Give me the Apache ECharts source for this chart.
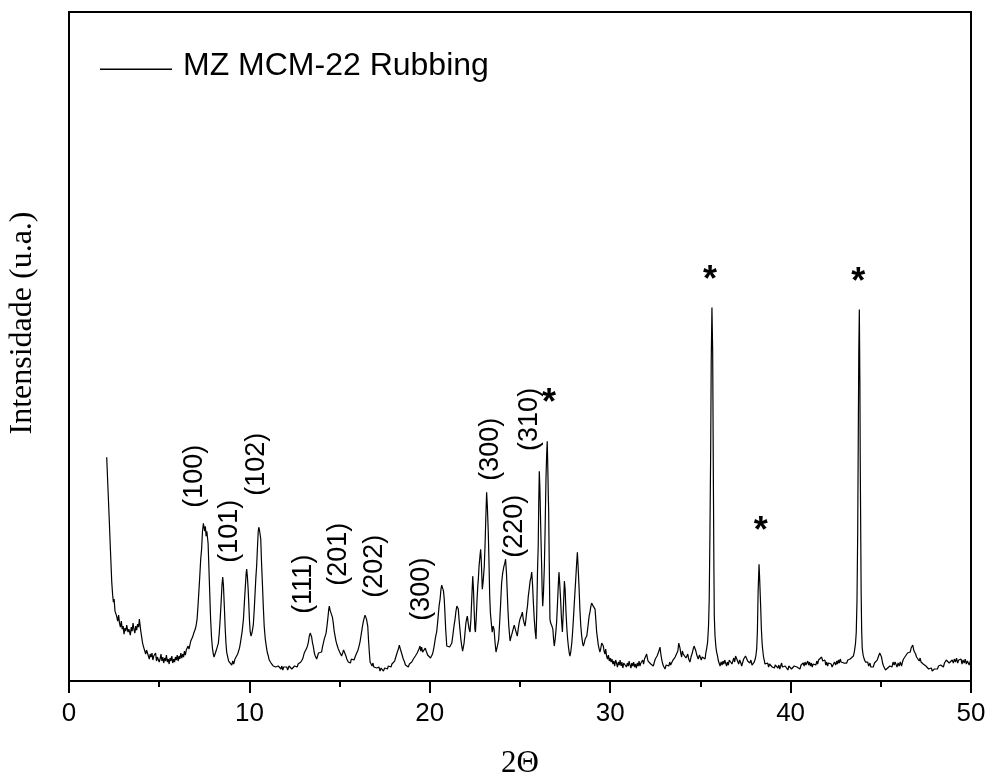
<!DOCTYPE html>
<html>
<head>
<meta charset="utf-8">
<script src="https://cdn.jsdelivr.net/npm/echarts@6/dist/echarts.min.js"></script>
<style>
html,body{margin:0;padding:0;background:#fff;}
#chart{width:989px;height:778px;}
</style>
</head>
<body>
<div id="chart"></div>
<script>
// ---- XRD scan, [2theta, intensity (a.u.)] ----
var scanLowAngle = [[2.09,224],[2.16,193],[2.23,162],[2.3,130],[2.37,99],[2.42,86],[2.46,79],[2.5,82],[2.55,70],[2.6,72],[2.64,65],[2.7,60],[2.75,66],[2.8,58],[2.85,54],[2.9,60],[2.95,52],[3.0,55],[3.05,47],[3.1,53],[3.15,50],[3.2,56],[3.27,49],[3.32,52],[3.4,46],[3.45,54],[3.5,50],[3.55,58],[3.6,52],[3.65,48],[3.7,55],[3.75,51],[3.8,57],[3.86,54],[3.9,62],[3.94,60],[3.98,50],[4.03,44],[4.08,38],[4.12,35],[4.2,33],[4.25,27],[4.3,31],[4.38,29],[4.45,22],[4.5,27],[4.55,24],[4.6,28],[4.65,21],[4.7,25],[4.75,23],[4.8,28],[4.85,20],[4.9,24],[4.95,26],[5.0,19],[5.05,22],[5.1,27],[5.15,20],[5.2,24],[5.25,18],[5.3,23],[5.35,20],[5.4,26],[5.45,19],[5.5,22],[5.55,17],[5.6,23],[5.65,20],[5.7,25],[5.75,18],[5.8,22],[5.85,19],[5.9,24],[5.95,21],[6.0,26],[6.05,20],[6.1,25],[6.15,22],[6.2,28],[6.25,23],[6.3,27],[6.35,24],[6.4,30],[6.45,26],[6.5,31],[6.55,29],[6.6,35],[6.65,32],[6.7,36],[6.75,40],[6.8,38],[6.85,44],[6.9,47],[6.95,45],[7.0,52],[7.05,56],[7.1,62],[7.15,75],[7.2,90],[7.25,105],[7.3,122],[7.35,132],[7.4,150],[7.45,158],[7.48,160],[7.52,150],[7.56,155],[7.6,145],[7.64,150],[7.67,149],[7.71,138],[7.74,122],[7.78,100],[7.82,78],[7.85,62],[7.9,44],[7.95,33],[8.0,27],[8.04,24],[8.1,26],[8.15,30],[8.2,32],[8.28,38],[8.33,48],[8.38,62],[8.43,78],[8.48,96],[8.52,104],[8.56,96],[8.61,75],[8.66,52],[8.7,38],[8.74,29],[8.8,24],[8.85,20],[8.9,22],[8.95,18],[9.02,16],[9.08,20],[9.13,17],[9.2,22],[9.25,24],[9.3,21],[9.35,27],[9.39,26],[9.45,33],[9.5,38],[9.55,44],[9.6,50],[9.67,62],[9.72,78],[9.78,96],[9.82,108],[9.85,112],[9.89,104],[9.93,92],[9.96,80],[10.0,62],[10.04,50],[10.09,45],[10.14,48],[10.18,52],[10.22,57],[10.27,72],[10.32,90],[10.36,104],[10.4,115],[10.45,135],[10.49,150],[10.52,154],[10.56,151],[10.6,146],[10.63,142],[10.67,120],[10.72,98],[10.77,75],[10.82,55],[10.88,42],[10.96,32],[11.0,28],[11.05,25],[11.1,21],[11.15,23],[11.2,18],[11.25,20],[11.33,15],[11.4,17],[11.45,14],[11.5,16],[11.55,12],[11.6,15],[11.65,13],[11.7,16],[11.75,12],[11.8,15],[11.85,11],[11.9,14],[11.95,16]];

var scanMidAngle = [[12.0,12],[12.07,14],[12.12,11],[12.2,15],[12.25,13],[12.3,16],[12.35,12],[12.4,14],[12.45,11],[12.5,15],[12.55,13],[12.6,16],[12.65,14],[12.7,17],[12.75,15],[12.8,15],[12.85,19],[12.9,17],[12.95,22],[13.0,24],[13.04,28],[13.08,29],[13.13,27],[13.18,33],[13.23,36],[13.27,39],[13.32,45],[13.37,48],[13.41,49],[13.45,44],[13.5,38],[13.54,35],[13.6,28],[13.65,25],[13.7,24],[13.73,22],[13.78,25],[13.83,28],[13.88,26],[13.93,30],[14.0,29],[14.05,34],[14.1,38],[14.15,42],[14.2,45],[14.25,48],[14.3,55],[14.35,63],[14.4,72],[14.43,75],[14.47,71],[14.52,73],[14.56,72],[14.6,64],[14.65,58],[14.7,50],[14.75,45],[14.8,40],[14.86,36],[14.93,32],[15.0,29],[15.05,27],[15.11,25],[15.17,28],[15.22,31],[15.26,30],[15.3,29],[15.35,25],[15.4,22],[15.48,19],[15.55,21],[15.6,18],[15.65,22],[15.7,20],[15.75,24],[15.8,21],[15.85,22],[15.9,26],[15.95,28],[16.0,30],[16.05,33],[16.13,39],[16.2,47],[16.26,54],[16.31,59],[16.36,63],[16.41,66],[16.45,67],[16.49,62],[16.53,60],[16.56,55],[16.6,42],[16.65,28],[16.69,19],[16.75,17],[16.8,15],[16.85,18],[16.9,14],[16.95,16],[17.0,12],[17.06,13],[17.12,11],[17.18,14],[17.24,10],[17.3,13],[17.36,11],[17.43,10],[17.5,13],[17.55,11],[17.6,14],[17.65,12],[17.7,15],[17.75,13],[17.8,16],[17.85,14],[17.9,17],[17.98,17],[18.05,20],[18.1,23],[18.15,26],[18.2,29],[18.26,32],[18.31,36],[18.35,35],[18.4,30],[18.45,27],[18.53,22],[18.6,19],[18.65,16],[18.7,18],[18.75,15],[18.81,14],[18.87,17],[18.93,15],[19.0,19],[19.05,18],[19.09,22],[19.15,20],[19.2,25],[19.25,23],[19.3,28],[19.35,26],[19.4,32],[19.46,35],[19.5,30],[19.55,34],[19.6,29],[19.64,31],[19.7,27],[19.75,33],[19.8,30],[19.83,32],[19.88,26],[19.93,28],[19.98,24],[20.04,23],[20.1,22],[20.15,27],[20.2,31],[20.25,36],[20.3,42],[20.34,46],[20.38,49],[20.43,58],[20.48,68],[20.52,76],[20.57,82],[20.62,92],[20.66,96],[20.69,97],[20.72,94],[20.76,90],[20.8,82],[20.84,68],[20.88,52],[20.94,35],[21.0,33],[21.05,36],[21.1,34],[21.16,32],[21.22,38],[21.28,46],[21.34,55],[21.4,62],[21.45,70],[21.5,75],[21.54,77],[21.58,72],[21.62,62],[21.67,52],[21.72,42],[21.78,34],[21.82,30],[21.86,29],[21.9,38],[21.95,48],[22.0,58],[22.04,62],[22.08,65],[22.13,58],[22.18,52],[22.23,49],[22.28,62],[22.33,84],[22.38,105],[22.42,92],[22.46,70],[22.5,52],[22.53,49],[22.57,62],[22.62,82],[22.66,95],[22.69,102],[22.73,115],[22.78,125],[22.82,132],[22.86,118],[22.91,92],[22.96,100],[23.02,115],[23.06,135],[23.1,160],[23.15,189],[23.19,175],[23.24,150],[23.28,120],[23.32,85],[23.36,68],[23.41,58],[23.46,49],[23.51,55],[23.56,52],[23.62,38],[23.67,29],[23.72,33],[23.77,37],[23.82,42],[23.87,58],[23.92,75],[23.98,98]];

var scanHighAngle = [[24.04,108],[24.11,115],[24.16,118],[24.2,122],[24.25,108],[24.29,90],[24.33,72],[24.38,55],[24.45,40],[24.5,44],[24.55,47],[24.59,50],[24.64,48],[24.68,56],[24.72,55],[24.77,50],[24.81,48],[24.85,45],[24.9,52],[24.95,58],[25.0,62],[25.05,60],[25.09,66],[25.13,69],[25.18,62],[25.23,58],[25.28,55],[25.33,62],[25.37,69],[25.42,76],[25.46,85],[25.51,92],[25.56,100],[25.61,104],[25.65,109],[25.7,95],[25.74,79],[25.79,62],[25.84,50],[25.89,42],[25.93,70],[25.97,110],[26.01,135],[26.04,180],[26.07,210],[26.1,195],[26.13,170],[26.16,145],[26.2,115],[26.23,90],[26.26,75],[26.3,88],[26.35,115],[26.39,150],[26.44,202],[26.48,228],[26.51,240],[26.54,215],[26.57,185],[26.59,169],[26.62,120],[26.66,62],[26.7,58],[26.74,60],[26.77,55],[26.82,52],[26.86,42],[26.9,35],[26.95,42],[27.0,52],[27.03,59],[27.08,78],[27.12,95],[27.16,109],[27.2,98],[27.25,82],[27.3,62],[27.35,49],[27.4,70],[27.46,100],[27.5,92],[27.55,69],[27.6,52],[27.64,42],[27.68,35],[27.73,28],[27.77,25],[27.82,30],[27.87,38],[27.92,50],[27.96,62],[28.01,78],[28.05,90],[28.09,102],[28.14,118],[28.18,129],[28.22,115],[28.27,95],[28.32,72],[28.37,55],[28.42,45],[28.47,38],[28.51,35],[28.56,38],[28.61,42],[28.66,44],[28.7,45],[28.75,52],[28.8,60],[28.84,66],[28.88,69],[28.92,74],[28.97,78],[29.01,79],[29.06,75],[29.11,74],[29.16,72],[29.2,62],[29.25,49],[29.3,42],[29.34,36],[29.39,32],[29.43,29],[29.48,33],[29.53,38],[29.57,40],[29.62,35],[29.66,30],[29.71,27],[29.75,32],[29.8,25],[29.85,22],[29.9,26],[29.95,20],[30.0,23],[30.05,19],[30.1,22],[30.15,17],[30.2,20],[30.25,15],[30.3,21],[30.35,18],[30.4,14],[30.45,19],[30.5,16],[30.55,21],[30.6,15],[30.65,19],[30.7,13],[30.75,18],[30.8,16],[30.85,20],[30.9,14],[30.95,18],[31.0,15],[31.05,20],[31.1,16],[31.15,13],[31.2,18],[31.25,15],[31.3,19],[31.35,14],[31.4,17],[31.45,13],[31.5,18],[31.55,15],[31.6,20],[31.65,15],[31.7,18],[31.75,16],[31.8,21],[31.85,17],[31.9,22],[31.95,24],[32.02,27],[32.06,23],[32.1,20],[32.15,18],[32.2,22],[32.25,17],[32.3,19],[32.35,16],[32.39,15],[32.45,19],[32.5,22],[32.55,20],[32.6,25],[32.65,27],[32.7,30],[32.76,34],[32.8,28],[32.85,22],[32.9,18],[32.95,15],[33.0,14],[33.04,12],[33.1,16],[33.15,14],[33.2,18],[33.25,15],[33.3,19],[33.35,16],[33.41,17],[33.48,21],[33.55,20],[33.6,24],[33.65,22],[33.7,26],[33.75,30],[33.8,38],[33.83,40],[33.87,33],[33.91,28],[33.96,24],[34.0,30],[34.05,27],[34.1,25],[34.15,28],[34.2,23],[34.24,24],[34.3,27],[34.35,22],[34.42,19],[34.48,24],[34.55,28],[34.6,32],[34.65,35],[34.7,37],[34.75,30],[34.8,26],[34.88,22],[34.95,26],[35.0,24],[35.05,21],[35.1,24],[35.15,22],[35.2,25],[35.26,22],[35.3,28],[35.35,33],[35.4,39],[35.45,55],[35.49,82],[35.53,150],[35.57,232],[35.6,320],[35.64,374],[35.68,330],[35.72,199],[35.75,110],[35.77,65],[35.81,45],[35.86,34],[35.9,29],[35.95,25]];

var scanTail = [[36.0,20],[36.05,18],[36.09,15],[36.15,19],[36.2,16],[36.25,20],[36.3,17],[36.35,21],[36.4,18],[36.45,15],[36.5,19],[36.55,16],[36.6,21],[36.64,19],[36.7,22],[36.75,17],[36.8,20],[36.85,23],[36.9,19],[36.95,25],[37.01,24],[37.06,20],[37.12,17],[37.18,21],[37.24,18],[37.29,15],[37.35,19],[37.4,22],[37.45,20],[37.5,25],[37.57,24],[37.62,20],[37.68,22],[37.74,18],[37.8,21],[37.86,16],[37.93,15],[37.98,19],[38.04,22],[38.08,26],[38.12,32],[38.16,50],[38.2,90],[38.25,117],[38.29,100],[38.34,75],[38.38,52],[38.42,38],[38.45,32],[38.5,24],[38.55,20],[38.58,17],[38.63,19],[38.68,15],[38.73,18],[38.78,14],[38.83,17],[38.88,15],[38.93,18],[38.98,14],[39.04,15],[39.1,13],[39.15,16],[39.2,14],[39.25,17],[39.3,13],[39.35,16],[39.4,12],[39.45,15],[39.5,18],[39.55,14],[39.6,16],[39.65,12],[39.7,15],[39.78,14],[39.85,11],[39.9,15],[39.95,13],[40.0,16],[40.05,12],[40.1,14],[40.15,11],[40.2,15],[40.25,13],[40.3,17],[40.35,14],[40.4,12],[40.45,15],[40.52,12],[40.58,16],[40.63,14],[40.7,18],[40.75,15],[40.8,19],[40.85,16],[40.89,17],[40.95,20],[41.0,16],[41.05,19],[41.1,15],[41.15,18],[41.2,14],[41.25,17],[41.3,15],[41.35,19],[41.4,16],[41.45,20],[41.5,17],[41.55,21],[41.6,23],[41.65,20],[41.72,24],[41.78,20],[41.84,18],[41.9,21],[41.95,16],[42.0,19],[42.05,15],[42.1,18],[42.15,16],[42.2,20],[42.25,17],[42.3,14],[42.37,15],[42.43,19],[42.5,16],[42.55,20],[42.6,17],[42.65,21],[42.7,18],[42.75,22],[42.8,19],[42.85,17],[42.9,21],[42.95,18],[43.0,20],[43.05,17],[43.11,18],[43.17,21],[43.23,19],[43.3,22],[43.35,20],[43.4,23],[43.48,25],[43.54,30],[43.6,38],[43.64,49],[43.68,80],[43.72,150],[43.75,240],[43.78,330],[43.81,372],[43.84,300],[43.86,220],[43.88,169],[43.91,90],[43.94,50],[43.97,33],[44.02,26],[44.08,22],[44.15,19],[44.21,17],[44.27,19],[44.33,15],[44.4,18],[44.45,14],[44.52,16],[44.58,14],[44.65,18],[44.72,17],[44.8,21],[44.88,25],[44.94,28],[44.99,30],[45.04,24],[45.1,18],[45.15,15],[45.2,13],[45.26,11],[45.32,9],[45.38,13],[45.44,11],[45.5,15],[45.56,17],[45.62,14],[45.68,19],[45.74,16],[45.79,19],[45.85,17],[45.9,14],[45.96,18],[46.02,15],[46.08,19],[46.15,15],[46.2,19],[46.26,22],[46.31,20],[46.37,25],[46.43,25],[46.48,28],[46.53,26],[46.58,30],[46.63,29],[46.68,33],[46.72,31],[46.77,36],[46.8,34],[46.84,30],[46.88,32],[46.93,27],[46.98,24],[47.03,26],[47.08,22],[47.13,20],[47.18,23],[47.23,19],[47.3,21],[47.35,17],[47.4,18],[47.45,17],[47.5,15],[47.55,13],[47.6,15],[47.65,12],[47.7,14],[47.75,11],[47.8,13],[47.85,10],[47.91,9],[47.97,12],[48.03,10],[48.08,14],[48.14,12],[48.2,15],[48.26,13],[48.32,16],[48.38,14],[48.43,17],[48.47,14],[48.53,18],[48.58,16],[48.63,21],[48.68,19],[48.74,22],[48.79,18],[48.84,20],[48.9,17],[48.96,21],[49.02,18],[49.08,22],[49.14,19],[49.2,23],[49.26,18],[49.32,21],[49.39,19],[49.45,22],[49.5,17],[49.56,21],[49.62,18],[49.68,22],[49.74,17],[49.8,20],[49.85,19],[49.9,16],[49.94,15],[49.98,21]];

// ---- peak annotations (data coordinates) ----
var hklText      = ['(100)','(101)','(102)','(111)','(201)','(202)','(300)','(300)','(220)','(310)'];
var hklTheta     = [6.98, 8.92, 10.40, 12.99, 14.93, 16.96, 19.55, 23.34, 24.72, 25.55];
var hklIntensity = [205, 150, 217, 97, 127, 115, 92, 232, 155, 262];

var starTheta     = [26.61, 35.53, 38.34, 43.75];
var starIntensity = [277, 401, 149, 399];

var xTicks = [0, 10, 20, 30, 40, 50];
var seriesName = 'MZ MCM-22 Rubbing';

var scan = scanLowAngle.concat(scanMidAngle, scanHighAngle, scanTail);
var hklData = hklText.map(function (t, i) { return [hklTheta[i], hklIntensity[i], t]; });
var starData = starTheta.map(function (t, i) { return [t, starIntensity[i], '*']; });

var SANS = '"Liberation Sans", Arial, Helvetica, sans-serif';
var SERIF = '"Liberation Serif", "Times New Roman", Times, serif';

var chart = echarts.init(document.getElementById('chart'), null, {renderer: 'canvas'});
chart.setOption({
  animation: false,
  backgroundColor: '#ffffff',
  grid: {left: 69, right: 18, top: 12, bottom: 97, show: true, borderColor: '#000', borderWidth: 2, backgroundColor: 'transparent'},
  legend: {
    data: [seriesName],
    left: 100, top: 50, padding: 0,
    itemWidth: 78, itemHeight: 30,
    icon: 'path://M0,0 M0,17.6 L72,17.6 L72,18.9 L0,18.9 Z M78,30',
    itemStyle: {borderWidth: 0},
    textStyle: {fontFamily: SANS, fontSize: 32, color: '#000'},
    selectedMode: false
  },
  xAxis: {
    type: 'value', min: xTicks[0], max: xTicks[xTicks.length - 1], interval: 10,
    axisLine: {show: true, onZero: false, lineStyle: {color: '#000', width: 2}},
    axisTick: {show: true, inside: false, length: 12, lineStyle: {color: '#000', width: 2}},
    minorTick: {show: true, splitNumber: 2, length: 6, lineStyle: {color: '#000', width: 2}},
    splitLine: {show: false}, minorSplitLine: {show: false},
    axisLabel: {fontFamily: SANS, fontSize: 26, color: '#000', margin: 20}
  },
  yAxis: {
    type: 'value', min: 0, max: 670,
    axisLine: {show: true, lineStyle: {color: '#000', width: 2}},
    axisTick: {show: false}, axisLabel: {show: false}, splitLine: {show: false}
  },
  graphic: [
    {type: 'text', x: 23, y: 323, rotation: Math.PI / 2, silent: true,
     style: {text: 'Intensidade (u.a.)', fontFamily: SERIF, fontSize: 32, fill: '#000', align: 'center', verticalAlign: 'middle'}},
    {type: 'text', x: 520, y: 764, silent: true,
     style: {text: '2Θ', fontFamily: SERIF, fontSize: 31, fill: '#000', align: 'center', verticalAlign: 'middle'}}
  ],
  series: [
    {
      name: seriesName, type: 'line', data: scan,
      showSymbol: false, symbol: 'none', smooth: false,
      lineStyle: {color: '#000', width: 1.2}, itemStyle: {color: '#000'},
      silent: true, z: 3
    },
    {
      type: 'scatter', data: hklData, symbolSize: 0, silent: true,
      itemStyle: {color: '#000', opacity: 1},
      label: {show: true, position: 'inside', rotate: 90, formatter: function (p) { return p.data[2]; },
              fontFamily: SANS, fontSize: 27, color: '#000', opacity: 1, textBorderWidth: 0,
              align: 'center', verticalAlign: 'middle'},
      z: 4
    },
    {
      type: 'scatter', data: starData, symbolSize: 0, silent: true,
      itemStyle: {color: '#000', opacity: 1},
      label: {show: true, position: 'inside', formatter: function (p) { return p.data[2]; },
              fontFamily: SANS, fontSize: 36, fontWeight: 'bold', color: '#000', opacity: 1, textBorderWidth: 0,
              align: 'center', verticalAlign: 'middle'},
      z: 4
    }
  ]
});
</script>
</body>
</html>
